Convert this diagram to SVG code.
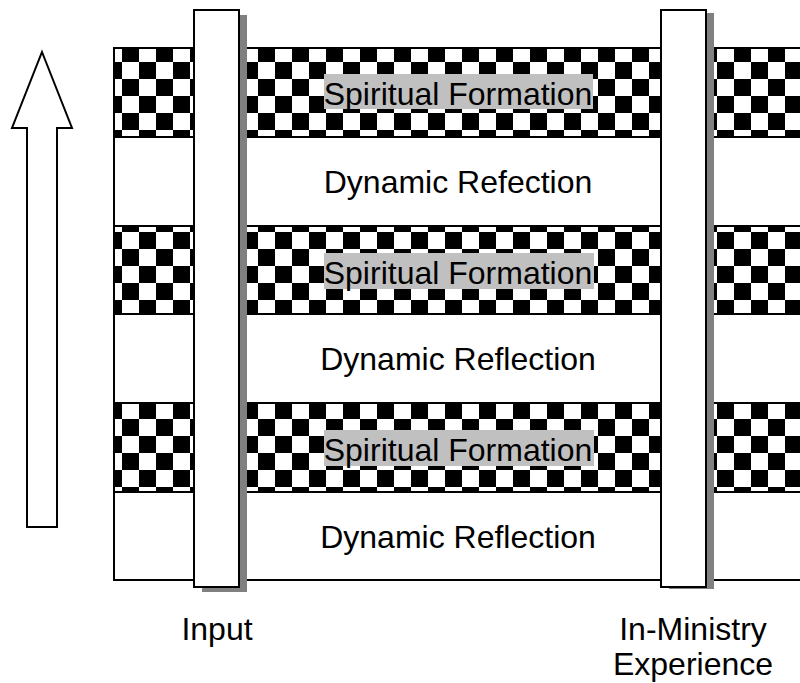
<svg xmlns="http://www.w3.org/2000/svg" width="800" height="683" viewBox="0 0 800 683">
<style>
.t{font-family:"Liberation Sans",Arial,sans-serif;font-size:32px;fill:#000;text-anchor:middle}
.band{fill:url(#chk);stroke:#000;stroke-width:2}
.lbl{fill:#C0C0C0}
.pillar{fill:#fff;stroke:#000;stroke-width:2}
.shadow{fill:#808080}
</style>
<defs>
<pattern id="chk" patternUnits="userSpaceOnUse" x="122" y="45" width="34" height="34">
<rect width="34" height="34" fill="#fff"/>
<rect x="0" y="0" width="17" height="17" fill="#000"/>
<rect x="17" y="17" width="17" height="17" fill="#000"/>
</pattern>
</defs>
<rect width="800" height="683" fill="#fff"/>
<g id="arrow">
<polygon points="42,52 72,128 57,128 57,527 27,527 27,128 12,128" fill="#fff" stroke="#000" stroke-width="2"/>
</g>
<g id="frame">
<rect x="114" y="48" width="700" height="532" fill="#fff" stroke="#000" stroke-width="2"/>
</g>
<g id="band1">
<rect class="band" x="114" y="48" width="700" height="89"/>
<rect class="lbl" x="324" y="74" width="269" height="35"/>
<text class="t" x="458" y="105">Spiritual Formation</text>
</g>
<g id="refl1">
<text class="t" x="458" y="193">Dynamic Refection</text>
</g>
<g id="band2">
<rect class="band" x="114" y="226" width="700" height="88"/>
<rect class="lbl" x="324" y="253" width="270" height="36"/>
<text class="t" x="458" y="284">Spiritual Formation</text>
</g>
<g id="refl2">
<text class="t" x="458" y="370">Dynamic Reflection</text>
</g>
<g id="band3">
<rect class="band" x="114" y="403" width="700" height="89"/>
<rect class="lbl" x="324" y="430" width="270" height="36"/>
<text class="t" x="458" y="461">Spiritual Formation</text>
</g>
<g id="refl3">
<text class="t" x="458" y="548">Dynamic Reflection</text>
</g>
<g id="input">
<rect class="shadow" x="202" y="15" width="45" height="577"/>
<rect class="pillar" x="194" y="10" width="45" height="577"/>
<text class="t" x="217" y="640">Input</text>
</g>
<g id="ministry">
<rect class="shadow" x="669" y="13" width="45" height="576"/>
<rect class="pillar" x="661" y="10" width="45" height="577"/>
<text class="t" x="693" y="640">In-Ministry</text>
<text class="t" x="693" y="675">Experience</text>
</g>
<g id="connectors"></g>
</svg>
